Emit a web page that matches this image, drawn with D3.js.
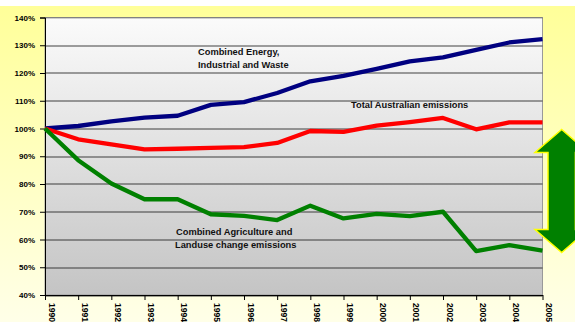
<!DOCTYPE html>
<html>
<head>
<meta charset="utf-8">
<script src="https://cdn.jsdelivr.net/npm/d3@7"></script>
<style>
  body { margin: 0; background: #fff; }
  svg { display: block; font-family: Arial, "Liberation Sans", sans-serif; }
</style>
</head>
<body>
<div id="chart"></div>
<script>
const years = d3.range(1990, 2006);
const yTicks = [0.4, 0.5, 0.6, 0.7, 0.8, 0.9, 1.0, 1.1, 1.2, 1.3, 1.4];

const energy = [1.00, 1.009, 1.026, 1.039, 1.046, 1.085, 1.095, 1.128, 1.170, 1.190, 1.215, 1.242, 1.256, 1.283, 1.310, 1.322];
const total = [1.00, 0.961, 0.943, 0.925, 0.927, 0.930, 0.933, 0.948, 0.991, 0.988, 1.010, 1.023, 1.038, 0.997, 1.022, 1.022];
const agri = [1.00, 0.886, 0.802, 0.745, 0.745, 0.691, 0.685, 0.670, 0.722, 0.676, 0.692, 0.684, 0.700, 0.558, 0.580, 0.560];

const series = [
  { name: "energy", values: energy, color: "#000080" },
  { name: "total", values: total, color: "#ff0000" },
  { name: "agri", values: agri, color: "#008000" }
];

const W = 575, H = 322;
const margin = { top: 17.5, right: 32.5, bottom: 27, left: 45 };
const width = W - margin.left - margin.right;
const height = H - margin.top - margin.bottom;

const root = d3.select("#chart").append("svg")
  .attr("width", W)
  .attr("height", H);

const defs = root.append("defs");
const bgGrad = defs.append("linearGradient")
  .attr("id", "bg").attr("x1", 0).attr("y1", 0).attr("x2", 0).attr("y2", 1);
bgGrad.append("stop").attr("offset", "0%").attr("stop-color", "#ffff99");
bgGrad.append("stop").attr("offset", "100%").attr("stop-color", "#ffffe8");

const plotGrad = defs.append("linearGradient")
  .attr("id", "plotbg").attr("x1", 0).attr("y1", 0).attr("x2", 0).attr("y2", 1);
plotGrad.append("stop").attr("offset", "0%").attr("stop-color", "#fbfbfb");
plotGrad.append("stop").attr("offset", "100%").attr("stop-color", "#c4c4c4");

root.append("rect")
  .attr("x", 0).attr("y", 6)
  .attr("width", W).attr("height", H - 6)
  .attr("fill", "url(#bg)");

const svg = root.append("g")
  .attr("transform", `translate(${margin.left},${margin.top})`);

const x = d3.scalePoint()
  .domain(years)
  .range([0, width]);

const y = d3.scaleLinear()
  .domain([0.4, 1.4])
  .range([height, 0]);

svg.append("rect")
  .attr("width", width)
  .attr("height", height)
  .attr("fill", "url(#plotbg)")
  .attr("stroke", "#999")
  .attr("stroke-width", 1);

// gridlines
svg.append("g")
  .selectAll("line")
  .data(yTicks)
  .join("line")
  .attr("x1", 0)
  .attr("x2", width)
  .attr("y1", d => Math.round(y(d)) + 0.5)
  .attr("y2", d => Math.round(y(d)) + 0.5)
  .attr("stroke", "#222")
  .attr("stroke-width", 1)
  .attr("opacity", d => d === 1.4 ? 0.4 : 0.85);

// y axis
const yAxis = svg.append("g")
  .call(d3.axisLeft(y).tickValues(yTicks).tickFormat(d3.format(".0%")).tickSize(5).tickPadding(5));
yAxis.select(".domain").attr("stroke", "#000");
yAxis.selectAll("text")
  .style("font-size", "8px")
  .style("font-weight", "bold")
  .attr("fill", "#000");

// x axis
const xAxis = svg.append("g")
  .attr("transform", `translate(0,${height})`)
  .call(d3.axisBottom(x).tickSize(5).tickSizeOuter(0));
xAxis.select(".domain").attr("stroke", "#000");
xAxis.selectAll("text")
  .style("font-size", "8.5px")
  .style("font-weight", "bold")
  .attr("fill", "#000")
  .attr("text-anchor", "start")
  .attr("transform", "rotate(90)")
  .attr("x", 8)
  .attr("y", -3)
  .attr("dy", "0");

const line = d3.line()
  .x((d, i) => x(years[i]))
  .y(d => y(d));

svg.append("g")
  .selectAll("path")
  .data(series)
  .join("path")
  .attr("d", d => line(d.values))
  .attr("fill", "none")
  .attr("stroke", d => d.color)
  .attr("stroke-width", 4.3)
  .attr("stroke-linejoin", "round");

// labels
const labels = [
  { lines: ["Combined Energy,", "Industrial and Waste"], x: 198, y: 55 },
  { lines: ["Total Australian emissions"], x: 351, y: 108 },
  { lines: ["Combined Agriculture and", "Landuse change emissions"], x: 176, y: 235 }
];

labels.forEach(l => {
  const t = root.append("text")
    .attr("x", l.x)
    .attr("y", l.y)
    .style("font-size", "9.3px")
    .style("font-weight", "bold")
    .attr("fill", "#111");
  l.lines.forEach((s, i) => {
    t.append("tspan")
      .attr("x", i === 1 && l.x === 176 ? 175 : l.x)
      .attr("dy", i === 0 ? 0 : 13)
      .text(s);
  });
});

// double arrow
const ax = 561.7, aTop = 129.5, aBot = 252.5, headH = 23, headW = 26.7, shaftW = 13.7;
root.append("path")
  .attr("d", [
    `M${ax},${aTop}`,
    `L${ax + headW},${aTop + headH}`,
    `L${ax + shaftW},${aTop + headH}`,
    `L${ax + shaftW},${aBot - headH}`,
    `L${ax + headW},${aBot - headH}`,
    `L${ax},${aBot}`,
    `L${ax - headW},${aBot - headH}`,
    `L${ax - shaftW},${aBot - headH}`,
    `L${ax - shaftW},${aTop + headH}`,
    `L${ax - headW},${aTop + headH}`,
    "Z"
  ].join(""))
  .attr("fill", "#008000")
  .attr("stroke", "#ffff00")
  .attr("stroke-width", 1.5)
  .attr("stroke-linejoin", "miter");
</script>
</body>
</html>
